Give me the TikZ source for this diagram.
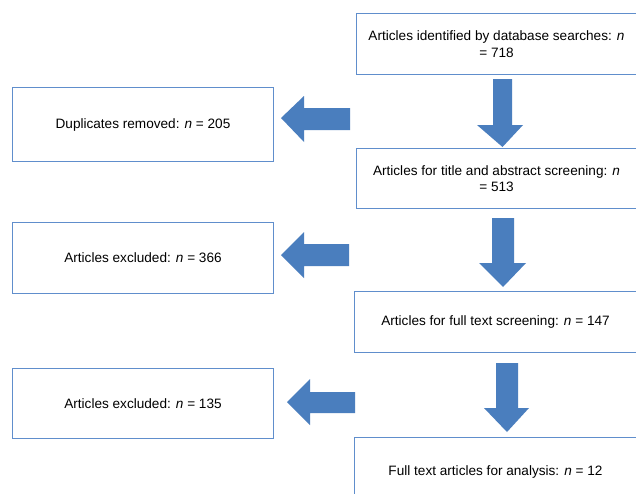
\documentclass[tikz,border=0pt]{standalone}
\usepackage{fontspec}
\setmainfont{Liberation Sans}
\definecolor{arrowblue}{RGB}{74,126,190}
\definecolor{boxblue}{RGB}{96,142,204}
\tikzset{
  boxnode/.style={draw=none, inner sep=0pt, align=center,
    font=\fontsize{13.6}{16.5}\selectfont},
  border/.style={draw=boxblue, line width=1.3pt},
  blockarrow/.style={fill=arrowblue, draw=none}
}
\begin{document}
\begin{tikzpicture}[x=1pt,y=-1pt]
\useasboundingbox[fill=white] (0,0) rectangle (636,493);

% right column
\node[boxnode, minimum width=279pt, minimum height=60pt] (r1) at (496.5,44)
  {Articles identified by database searches: \textit{n}\\= 718};
\node[boxnode, minimum width=279pt, minimum height=59pt] (r2) at (496.5,178.5)
  {Articles for title and abstract screening: \textit{n}\\= 513};
\node[boxnode, minimum width=281pt, minimum height=60pt] (r3) at (495.5,322)
  {Articles for full text screening: \textit{n} = 147};
\node[boxnode, minimum width=281pt, minimum height=68pt] (r4) at (495.5,472)
  {Full text articles for analysis: \textit{n} = 12};

% left column
\node[boxnode, minimum width=260pt, minimum height=73pt] (l1) at (143,124.5)
  {Duplicates removed: \textit{n} = 205};
\node[boxnode, minimum width=260pt, minimum height=70pt] (l2) at (143,258)
  {Articles excluded: \textit{n} = 366};
\node[boxnode, minimum width=260pt, minimum height=69pt] (l3) at (143,403.5)
  {Articles excluded: \textit{n} = 135};

% borders (right boxes run off the right edge)
\foreach \b in {r1,r2,r3}
  \draw[border] (\b.north east) -- (\b.north west) -- (\b.south west) -- (\b.south east);
\draw[border] (r4.north east) -- (r4.north west) -- (r4.south west);
\foreach \b in {l1,l2,l3}
  \draw[border] (\b.north west) rectangle (\b.south east);

% downward block arrows
\fill[blockarrow] (493,79) -- (512,79) -- (512,125) -- (523,125) -- (502.5,147)
  -- (477,125) -- (493,125) -- cycle;
\fill[blockarrow] (492,218) -- (514,218) -- (514,263) -- (526,263) -- (503,287)
  -- (479,263) -- (492,263) -- cycle;
\fill[blockarrow] (496,363) -- (518,363) -- (518,408) -- (529,408) -- (507,432)
  -- (484,408) -- (496,408) -- cycle;

% leftward block arrows
\fill[blockarrow] (350,108) -- (350,130) -- (304,130) -- (304,142) -- (281,118)
  -- (304,96) -- (304,108) -- cycle;
\fill[blockarrow] (349,244) -- (349,266) -- (304,266) -- (304,278) -- (281,255)
  -- (304,232) -- (304,244) -- cycle;
\fill[blockarrow] (355,392) -- (355,413) -- (310,413) -- (310,425) -- (287,402)
  -- (310,379) -- (310,392) -- cycle;
\end{tikzpicture}
\end{document}
